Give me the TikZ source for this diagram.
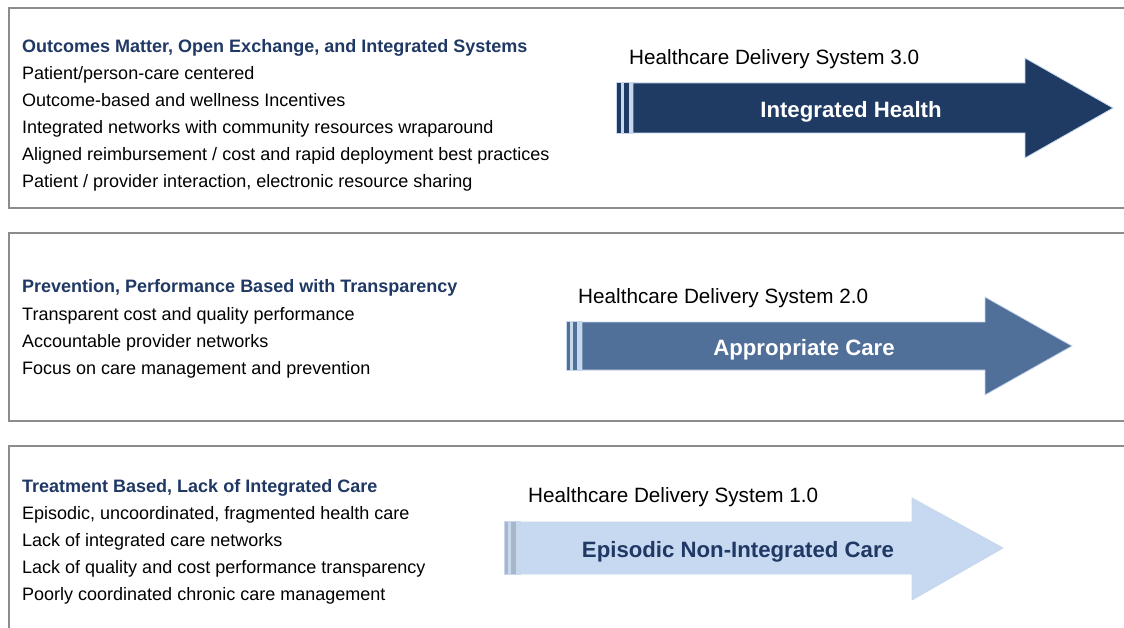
\documentclass[tikz,border=0pt]{standalone}
\usepackage{fontspec}
\setmainfont{Liberation Sans}
\usepackage{tikz}
\usetikzlibrary{positioning}
\usepackage{xcolor}
\definecolor{boxgrey}{RGB}{140,140,140}
\definecolor{titleblue}{RGB}{31,56,100}
\definecolor{stagenavy}{RGB}{31,58,99}
\definecolor{stagesteel}{RGB}{80,111,153}
\definecolor{stagepale}{RGB}{198,217,240}
\definecolor{edgelight}{RGB}{200,216,236}
\definecolor{edgegrey}{RGB}{168,182,202}

\begin{document}
\begin{tikzpicture}[x=1pt,y=-1pt]
  \tikzstyle{panel}=[draw=boxgrey,line width=1.3pt]
  \tikzstyle{heading}=[anchor=base west,inner sep=0pt,text=titleblue,font=\fontsize{18}{20}\selectfont\bfseries]
  \tikzstyle{point}=[anchor=base west,inner sep=0pt,font=\fontsize{18}{20}\selectfont]
  \tikzstyle{sysname}=[anchor=base west,inner sep=0pt,font=\fontsize{20.7}{22}\selectfont]
  \tikzstyle{stagename}=[anchor=base,inner sep=0pt,font=\fontsize{22.2}{24}\selectfont\bfseries]

  \useasboundingbox (0,0) rectangle (1124,628);
  \clip (0,0) rectangle (1124,628);
  \fill[white] (0,0) rectangle (1124,628);

  % panels
  \draw[panel] (9,8) rectangle (1140,208);
  \draw[panel] (9,233) rectangle (1140,421);
  \draw[panel] (9,446) rectangle (1140,660);

  % system 3.0
  \fill[edgelight] (616,82) rectangle (634,134);
  \fill[stagenavy] (617,83) rectangle (621,133);
  \fill[stagenavy] (624,83) rectangle (629,133);
  \filldraw[fill=stagenavy,draw=edgelight,line width=0.8pt]
    (633,83) -- (1025,83) -- (1025,58) -- (1113,108) -- (1025,158) -- (1025,133) -- (633,133) -- cycle;

  % system 2.0
  \fill[edgelight] (566,321) rectangle (583,371);
  \fill[stagesteel] (567,322) rectangle (570,370);
  \fill[stagesteel] (573,322) rectangle (577,370);
  \filldraw[fill=stagesteel,draw=edgelight,line width=0.8pt]
    (582,322) -- (985,322) -- (985,297) -- (1072,346) -- (985,395) -- (985,370) -- (582,370) -- cycle;

  % system 1.0
  \fill[edgelight] (504,521) rectangle (521,575);
  \fill[edgegrey] (505,522) rectangle (508,574);
  \fill[edgegrey] (511,522) rectangle (516,574);
  \filldraw[fill=stagepale,draw=edgelight,line width=0.8pt]
    (520,522) -- (912,522) -- (912,498) -- (1003,548) -- (912,600) -- (912,574) -- (520,574) -- cycle;

  \node[sysname] (sys3) at (629,65) {Healthcare Delivery System 3.0};
  \node[stagename,text=white] (stage3) at (851,118) {Integrated Health};
  \node[sysname] (sys2) at (578,304) {Healthcare Delivery System 2.0};
  \node[stagename,text=white] (stage2) at (804,355) {Appropriate Care};
  \node[sysname] (sys1) at (528,502) {Healthcare Delivery System 1.0};
  \node[stagename,text=titleblue] (stage1) at (738,557) {Episodic Non-Integrated Care};

  % integrated health
  \node[heading] (head3) at (22,53) {Outcomes Matter, Open Exchange, and Integrated Systems};
  \node[point] (p3a) at (22,80) {Patient/person-care centered};
  \node[point] (p3b) at (22,107) {Outcome-based and wellness Incentives};
  \node[point] (p3c) at (22,134) {Integrated networks with community resources wraparound};
  \node[point] (p3d) at (22,161) {Aligned reimbursement / cost and rapid deployment best practices};
  \node[point] (p3e) at (22,188) {Patient / provider interaction, electronic resource sharing};

  % appropriate care
  \node[heading] (head2) at (22,293) {Prevention, Performance Based with Transparency};
  \node[point] (p2a) at (22,320) {Transparent cost and quality performance};
  \node[point] (p2b) at (22,347) {Accountable provider networks};
  \node[point] (p2c) at (22,374) {Focus on care management and prevention};

  % episodic care
  \node[heading] (head1) at (22,492) {Treatment Based, Lack of Integrated Care};
  \node[point] (p1a) at (22,519) {Episodic, uncoordinated, fragmented health care};
  \node[point] (p1b) at (22,546) {Lack of integrated care networks};
  \node[point] (p1c) at (22,573) {Lack of quality and cost performance transparency};
  \node[point] (p1d) at (22,600) {Poorly coordinated chronic care management};
\end{tikzpicture}
\end{document}
